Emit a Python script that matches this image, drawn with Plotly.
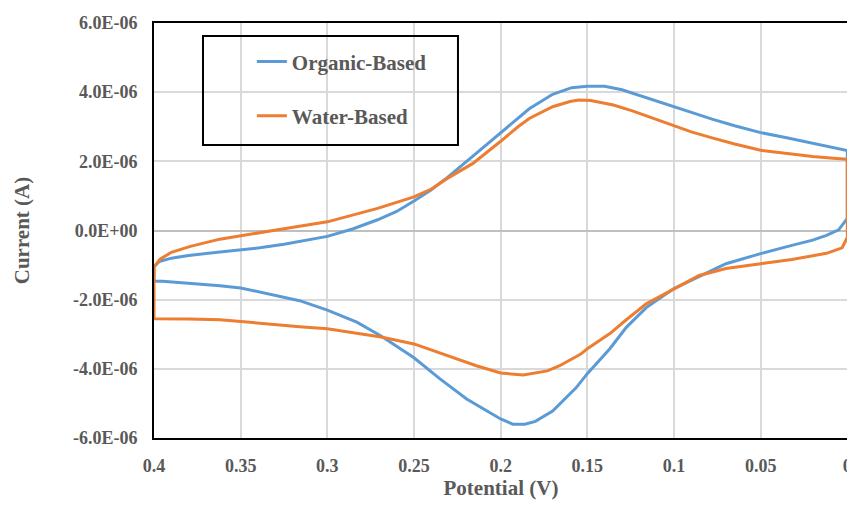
import plotly.graph_objects as go

# ---- data (potential in V, current in microamps) ----
org_fwd_v = [0.400, 0.397, 0.390, 0.380, 0.362, 0.350, 0.339, 0.325, 0.310, 0.300, 0.285, 0.271,
             0.260, 0.250, 0.240, 0.231, 0.216, 0.200, 0.190, 0.1835, 0.170, 0.159, 0.150, 0.140,
             0.130, 0.124, 0.112, 0.100, 0.090, 0.078, 0.065, 0.050, 0.035, 0.020, 0.008, 0.000]
org_fwd_i = [-1.05, -0.90, -0.80, -0.72, -0.62, -0.56, -0.50, -0.40, -0.27, -0.17, 0.05, 0.31,
             0.55, 0.85, 1.18, 1.52, 2.15, 2.82, 3.25, 3.52, 3.94, 4.13, 4.17, 4.17,
             4.07, 3.97, 3.78, 3.58, 3.42, 3.22, 3.03, 2.83, 2.68, 2.53, 2.40, 2.31]
org_rev_v = [0.000, 0.000, 0.005, 0.012, 0.020, 0.032, 0.050, 0.070, 0.0855, 0.100, 0.116, 0.1275,
             0.137, 0.150, 0.1565, 0.170, 0.180, 0.186, 0.193, 0.200, 0.2196, 0.235, 0.250, 0.269,
             0.283, 0.300, 0.316, 0.330, 0.350, 0.362, 0.380, 0.395, 0.400, 0.400]
org_rev_i = [2.31, 0.35, 0.02, -0.14, -0.28, -0.43, -0.67, -0.96, -1.32, -1.68, -2.23, -2.80,
             -3.42, -4.14, -4.55, -5.22, -5.52, -5.60, -5.60, -5.45, -4.87, -4.29, -3.68, -3.05,
             -2.65, -2.30, -2.03, -1.88, -1.66, -1.60, -1.52, -1.47, -1.47, -1.05]

wat_fwd_v = [0.400, 0.3965, 0.390, 0.379, 0.362, 0.350, 0.339, 0.325, 0.300, 0.285, 0.271, 0.250,
             0.240, 0.231, 0.216, 0.200, 0.190, 0.1835, 0.170, 0.160, 0.155, 0.148, 0.135, 0.124,
             0.112, 0.100, 0.090, 0.078, 0.065, 0.050, 0.035, 0.020, 0.008, 0.000]
wat_fwd_i = [-1.05, -0.83, -0.63, -0.46, -0.25, -0.15, -0.05, 0.05, 0.25, 0.45, 0.64, 0.97,
             1.20, 1.50, 1.94, 2.58, 3.00, 3.24, 3.58, 3.73, 3.77, 3.76, 3.63, 3.46,
             3.25, 3.03, 2.85, 2.68, 2.50, 2.32, 2.22, 2.14, 2.09, 2.06]
wat_rev_v = [0.000, 0.000, 0.003, 0.012, 0.032, 0.050, 0.070, 0.0855, 0.100, 0.116, 0.1275, 0.137,
             0.150, 0.154, 0.166, 0.173, 0.187, 0.200, 0.214, 0.231, 0.250, 0.269, 0.283, 0.300,
             0.316, 0.339, 0.350, 0.362, 0.380, 0.398, 0.400, 0.400]
wat_rev_i = [2.06, -0.20, -0.50, -0.66, -0.84, -0.96, -1.10, -1.30, -1.68, -2.12, -2.58, -2.98,
             -3.42, -3.58, -3.91, -4.06, -4.18, -4.12, -3.91, -3.62, -3.28, -3.08, -2.97, -2.84,
             -2.78, -2.68, -2.62, -2.58, -2.56, -2.55, -2.55, -1.05]

x_ticks = [0.4, 0.35, 0.3, 0.25, 0.2, 0.15, 0.1, 0.05, 0]
x_tick_text = ["0.4", "0.35", "0.3", "0.25", "0.2", "0.15", "0.1", "0.05", "0"]
y_ticks = [-6e-6, -4e-6, -2e-6, 0, 2e-6, 4e-6, 6e-6]
y_tick_text = ["-6.0E-06", "-4.0E-06", "-2.0E-06", "0.0E+00", "2.0E-06", "4.0E-06", "6.0E-06"]

FONT = "Liberation Serif, Times New Roman, serif"
GRAY = "#595959"

fig = go.Figure()
fig.add_trace(go.Scatter(
    x=org_fwd_v + org_rev_v, y=[v * 1e-6 for v in org_fwd_i + org_rev_i],
    mode="lines", name="Organic-Based", legendgroup="a",
    line=dict(color="#5B9BD5", width=3)))
fig.add_trace(go.Scatter(
    x=wat_fwd_v + wat_rev_v, y=[v * 1e-6 for v in wat_fwd_i + wat_rev_i],
    mode="lines", name="Water-Based", legendgroup="b",
    line=dict(color="#ED7D31", width=3)))

# the page body adds an 8px offset, so the figure is sized to fit inside the window
fig.update_layout(
    width=847, height=492,
    margin=dict(l=146, r=7, t=15, b=62),
    paper_bgcolor="white", plot_bgcolor="white",
    font=dict(family=FONT, color=GRAY, size=18, weight="bold"),
    showlegend=True,
    legend=dict(x=0.141, y=0.956, xanchor="left", yanchor="top",
                bgcolor="rgba(0,0,0,0)", borderwidth=0,
                font=dict(family=FONT, size=21, color=GRAY, weight="bold"),
                tracegroupgap=24, itemwidth=30),
    shapes=[
        dict(type="rect", xref="paper", yref="paper", x0=0.0706, x1=0.438, y0=0.706, y1=0.9687,
             line=dict(color="black", width=2), fillcolor="rgba(0,0,0,0)", layer="above"),
        dict(type="line", xref="paper", yref="paper", x0=1, x1=1, y0=0, y1=1,
             line=dict(color="#BFBFBF", width=2)),
    ],
)
fig.update_xaxes(
    range=[0.4, -0.0004], tickvals=x_ticks, ticktext=x_tick_text, automargin=False,
    ticklabeloverflow="allow",
    showgrid=True, gridcolor="#D9D9D9", gridwidth=1.5,
    showline=True, linecolor="black", linewidth=2, mirror=True,
    ticks="", ticklabelstandoff=10, zeroline=False,
    title=dict(text="Potential (V)", font=dict(family=FONT, size=21, color=GRAY, weight="bold"), standoff=8),
)
fig.update_yaxes(
    range=[-6e-6, 6e-6], tickvals=y_ticks, ticktext=y_tick_text, automargin=False,
    showgrid=True, gridcolor="#D9D9D9", gridwidth=1.5,
    showline=True, linecolor="black", linewidth=2, mirror=False,
    ticks="", ticklabelstandoff=11,
    zeroline=True, zerolinecolor="#BFBFBF", zerolinewidth=2,
    title=dict(text="Current (A)", font=dict(family=FONT, size=21, color=GRAY, weight="bold"), standoff=38),
)

fig.write_html("out.html")
